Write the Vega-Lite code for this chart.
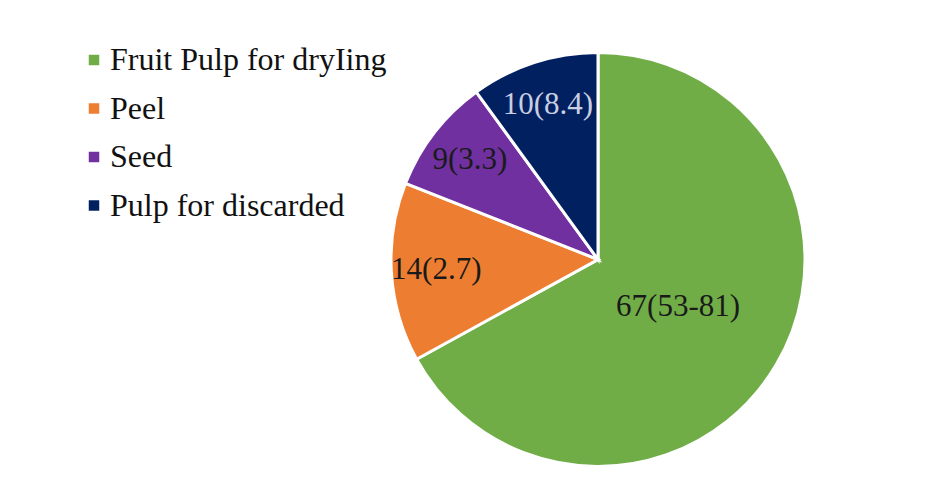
{
  "$schema": "https://vega.github.io/schema/vega-lite/v6.json",
  "width": 664,
  "height": 439,
  "autosize": "none",
  "padding": {"left": 266, "top": 40, "right": 0, "bottom": 0},
  "background": "white",
  "config": {"view": {"stroke": null}, "font": "Liberation Serif"},
  "data": {
    "values": [
      {"category": "Fruit Pulp for dryIing", "value": 67, "label": "67(53-81)", "idx": 1},
      {"category": "Peel", "value": 14, "label": "14(2.7)", "idx": 2},
      {"category": "Seed", "value": 9, "label": "9(3.3)", "idx": 3},
      {"category": "Pulp for discarded", "value": 10, "label": "10(8.4)", "idx": 4}
    ]
  },
  "encoding": {
    "theta": {"field": "value", "type": "quantitative", "stack": true},
    "order": {"field": "idx", "type": "quantitative"}
  },
  "layer": [
    {
      "mark": {"type": "arc", "outerRadius": 207, "stroke": "white", "strokeWidth": 3},
      "encoding": {
        "color": {
          "field": "category",
          "type": "nominal",
          "scale": {
            "domain": ["Fruit Pulp for dryIing", "Peel", "Seed", "Pulp for discarded"],
            "range": ["#70AD47", "#ED7D31", "#7030A0", "#002060"]
          },
          "legend": {
            "title": null,
            "orient": "none",
            "legendX": -188,
            "legendY": 4,
            "symbolType": "square",
            "symbolSize": 110,
            "symbolStrokeWidth": 0,
            "labelFont": "Liberation Serif",
            "labelFontSize": 32,
            "labelLimit": 500,
            "labelColor": "#111",
            "labelOffset": 0,
            "rowPadding": 16.5,
            "padding": 0
          }
        }
      }
    },
    {
      "mark": {"type": "text", "radius": 93, "font": "Liberation Serif", "fontSize": 31, "color": "#1a1a1a"},
      "encoding": {
        "text": {"condition": {"test": "datum.idx == 1", "field": "label"}, "value": ""}
      }
    },
    {
      "mark": {"type": "text", "radius": 162, "font": "Liberation Serif", "fontSize": 31},
      "encoding": {
        "text": {"condition": {"test": "datum.idx != 1", "field": "label"}, "value": ""},
        "color": {"condition": {"test": "datum.idx == 4", "value": "#c9cee2"}, "value": "#1a1a1a"}
      }
    }
  ]
}
